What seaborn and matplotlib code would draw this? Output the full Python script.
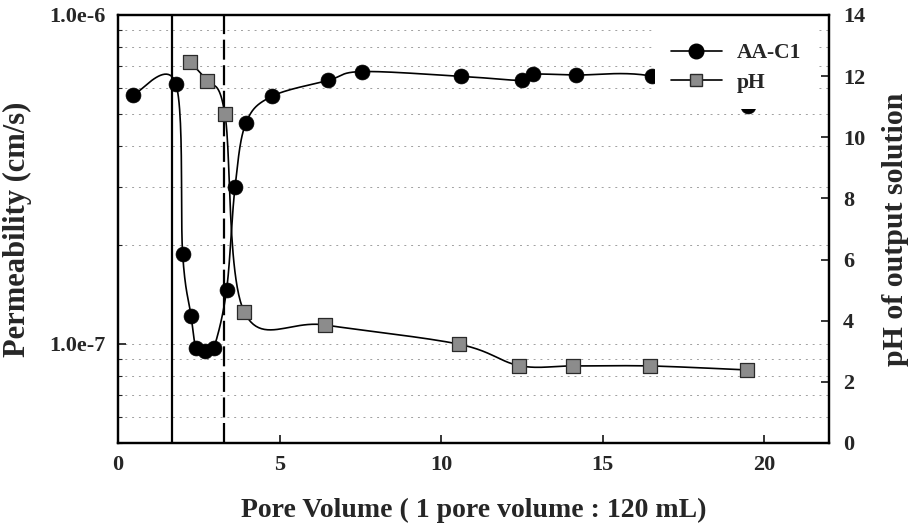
"""plot.py - permeability of AA-C1 and pH of the output solution vs pore volume"""

import numpy as np
import pandas as pd
import matplotlib
matplotlib.use("Agg")
import matplotlib.pyplot as plt
from matplotlib.lines import Line2D
from matplotlib.ticker import LogLocator, NullFormatter, FixedLocator
import seaborn as sns

sns.set_style("ticks")
plt.rcParams['font.family'] = ['Liberation Serif', 'DejaVu Serif']
plt.rcParams['font.weight'] = 'bold'

# --- data ---
aa_pv = [0.46, 1.79, 2.00, 2.26, 2.42, 2.70, 2.96, 3.36, 3.62, 3.96, 4.76,
         6.51, 7.54, 10.62, 12.50, 12.84, 14.17, 16.52, 19.50]
aa_perm = [5.7e-7, 6.18e-7, 1.88e-7, 1.22e-7, 9.7e-8, 9.5e-8, 9.7e-8, 1.46e-7,
           2.99e-7, 4.7e-7, 5.66e-7, 6.33e-7, 6.73e-7, 6.51e-7, 6.33e-7,
           6.6e-7, 6.57e-7, 6.52e-7, 5.3e-7]

ph_pv = [2.23, 2.74, 3.31, 3.90, 6.41, 10.56, 12.42, 14.09, 16.47, 19.46]
ph_val = [12.45, 11.85, 10.75, 4.30, 3.86, 3.23, 2.53, 2.52, 2.52, 2.39]

marker_lines = [1.66, 3.28]   # solid, dashed

x_ticks = [0, 5, 10, 15, 20]
ph_ticks = [0, 2, 4, 6, 8, 10, 12, 14]


def catmull_rom(x, y, n=25):
    """smoothed line through the points (like the original software's smoothing)"""
    p = np.column_stack([x, y]).astype(float)
    p = np.vstack([p[0], p, p[-1]])
    out = []
    for i in range(1, len(p) - 2):
        p0, p1, p2, p3 = p[i - 1], p[i], p[i + 1], p[i + 2]
        m1 = (p2 - p0) / 2
        m2 = (p3 - p1) / 2
        t = np.linspace(0, 1, n)[:, None]
        h00 = 2 * t**3 - 3 * t**2 + 1
        h10 = t**3 - 2 * t**2 + t
        h01 = -2 * t**3 + 3 * t**2
        h11 = t**3 - t**2
        out.append(h00 * p1 + h10 * m1 + h01 * p2 + h11 * m2)
    seg = np.vstack(out)
    return seg[:, 0], seg[:, 1]


aa_df = pd.DataFrame({'pv': aa_pv, 'perm': aa_perm})
ph_df = pd.DataFrame({'pv': ph_pv, 'ph': ph_val})

sx, sy = catmull_rom(aa_df['pv'], np.log10(aa_df['perm']))
aa_smooth = pd.DataFrame({'pv': sx, 'perm': 10**sy})
px, py = catmull_rom(ph_df['pv'], ph_df['ph'])
ph_smooth = pd.DataFrame({'pv': px, 'ph': py})

fig = plt.figure(figsize=(9.14, 5.28), dpi=100)
ax = fig.add_axes([118 / 914, 85 / 528, 711 / 914, 428 / 528])
ax2 = ax.twinx()

# left axis: permeability (log)
ax.set_yscale('log')
ax.set_xlim(0, 22)
ax.set_ylim(5e-8, 1e-6)
ax.grid(True, which='both', axis='y', color='#a0a0a0', linestyle=(0, (2, 5)), linewidth=0.7)
ax.grid(False, axis='x')

ax.axvline(marker_lines[0], color='black', lw=1.6, zorder=2)
ax.axvline(marker_lines[1], color='black', lw=1.6, linestyle=(0, (9, 2.5)), zorder=2)

sns.lineplot(data=aa_smooth, x='pv', y='perm', ax=ax, color='black', lw=1.2,
             sort=False, estimator=None, zorder=3)
sns.scatterplot(data=aa_df, x='pv', y='perm', ax=ax, color='black', s=115,
                marker='o', edgecolor='black', linewidth=0.5, zorder=4)

# right axis: pH
ax2.set_ylim(0, 14)
sns.lineplot(data=ph_smooth, x='pv', y='ph', ax=ax2, color='black', lw=1.2,
             sort=False, estimator=None, zorder=3)
sns.scatterplot(data=ph_df, x='pv', y='ph', ax=ax2, color='#8c8c8c', s=90,
                marker='s', edgecolor='#2a2a2a', linewidth=0.9, zorder=4)

# ticks and labels
ax.set_xticks(x_ticks)
ax.yaxis.set_major_locator(FixedLocator([1e-7, 1e-6]))
ax.yaxis.set_minor_locator(LogLocator(base=10, subs=np.arange(2, 10)))
ax.yaxis.set_minor_formatter(NullFormatter())
ax.set_yticklabels(['1.0e-7', '1.0e-6'])
ax2.set_yticks(ph_ticks)

ax.tick_params(axis='both', which='major', direction='in', length=6, width=1.3,
               labelsize=16, pad=9)
ax.tick_params(axis='y', which='minor', direction='in', length=3, width=0.8)
ax2.tick_params(axis='y', direction='in', length=6, width=1.3, labelsize=16, pad=10)
for lab in ax.get_xticklabels() + ax.get_yticklabels() + ax2.get_yticklabels():
    lab.set_fontweight('bold')

ax.set_xlabel('Pore Volume ( 1 pore volume : 120 mL)', fontsize=20,
              fontweight='bold', labelpad=16)
ax.set_ylabel('Permeability (cm/s)', fontsize=22, fontweight='bold', labelpad=12)
ax2.set_ylabel('pH of output solution', fontsize=21.5, fontweight='bold', labelpad=12)

for a in (ax, ax2):
    for sp in a.spines.values():
        sp.set_linewidth(1.6)
        sp.set_color('black')

handles = [
    Line2D([], [], color='black', lw=1.2, marker='o', markersize=10.5,
           markerfacecolor='black'),
    Line2D([], [], color='black', lw=1.2, marker='s', markersize=8.5,
           markerfacecolor='#8c8c8c', markeredgecolor='#2a2a2a'),
]
leg = ax2.legend(handles, ['AA-C1', 'pH'], loc='lower left',
                 bbox_to_anchor=(655 / 914, 1 - 109 / 528),
                 bbox_transform=fig.transFigure, borderaxespad=0,
                 borderpad=0.75, handlelength=2.35, handletextpad=0.7,
                 labelspacing=0.45, frameon=True, fancybox=False,
                 prop={'size': 15.5, 'weight': 'bold'})
leg.get_frame().set_edgecolor('none')
leg.get_frame().set_facecolor('white')
leg.get_frame().set_alpha(1)
leg.set_zorder(10)

fig.savefig('out.png', dpi=100)
